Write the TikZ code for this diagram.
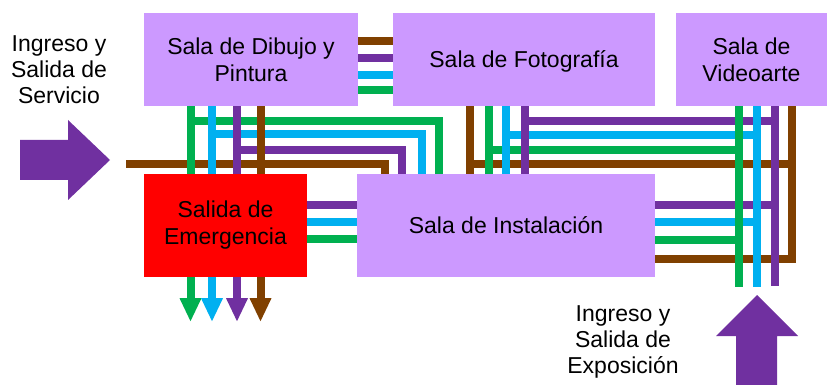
\documentclass[tikz,border=0pt]{standalone}
\usepackage{fontspec}
\setmainfont{Liberation Sans}
\usetikzlibrary{arrows.meta}
\definecolor{lav}{RGB}{204,153,255}
\definecolor{pu}{RGB}{112,48,160}
\definecolor{cy}{RGB}{0,176,240}
\definecolor{gr}{RGB}{0,176,80}
\definecolor{br}{RGB}{128,64,0}
\begin{document}
\begin{tikzpicture}[x=1pt,y=-1pt,
  room/.style={fill=lav,inner sep=0pt,align=center,font=\fontsize{23}{27}\selectfont},
  lbl/.style={inner sep=0pt,align=center,font=\fontsize{23}{26}\selectfont},
  ln/.style={line width=8pt},
  tipd/.style={-{Triangle[width=22pt,length=23pt,line width=0pt]}}]
\useasboundingbox (0,0) rectangle (828,385);

% rooms
\node[room,minimum width=214pt,minimum height=93pt] (dib) at (251,59.5) {Sala de Dibujo y\\Pintura};
\node[room,text depth=0pt,minimum width=262pt,minimum height=93pt] (fot) at (524,59.5) {Sala de Fotografía};
\node[room,minimum width=151pt,minimum height=93pt] (vid) at (751.5,59.5) {Sala de\\Videoarte};
\node[room,fill=red,minimum width=163pt,minimum height=103pt] (em) at (225.5,225.5) {Salida de\\Emergencia};
\node[room,text depth=0pt,minimum width=298pt,minimum height=103pt] (inst) at (506,225.5) {Sala de Instalación};

% labels
\node[lbl] (srvtxt) at (59,70) {Ingreso y\\Salida de\\Servicio};
\node[lbl] (exptxt) at (623,342) {Ingreso y\\Salida de\\Exposición};

% big arrows
\fill[pu] (20,140) -- (68,140) -- (68,120) -- (110,160) -- (68,200) -- (68,180) -- (20,180) -- cycle;
\fill[pu] (736,385) -- (736,336) -- (716,336) -- (757,295) -- (798,336) -- (777,336) -- (777,385) -- cycle;

% named points
\coordinate (srv) at (126,164);
\coordinate (jgL) at (190.5,121);
\coordinate (jcL) at (212,134.5);
\coordinate (jpL) at (237,150.5);
\coordinate (jbF) at (470,164);
\coordinate (jgF) at (489,150);
\coordinate (jcF) at (506,135);
\coordinate (jpF) at (525,121);
\coordinate (egV) at (739,287);
\coordinate (ecV) at (757,287);
\coordinate (epV) at (775,286);

% Dibujo -> Fotografia
\draw[ln,br] (dib.east |- 0,41) -- (fot.west |- 0,41);
\draw[ln,pu] (dib.east |- 0,58) -- (fot.west |- 0,58);
\draw[ln,cy] (dib.east |- 0,75) -- (fot.west |- 0,75);
\draw[ln,gr] (dib.east |- 0,90) -- (fot.west |- 0,90);

% Emergencia -> Instalacion
\draw[ln,pu] (em.east |- 0,205) -- (inst.west |- 0,205);
\draw[ln,cy] (em.east |- 0,222) -- (inst.west |- 0,222);
\draw[ln,gr] (em.east |- 0,239) -- (inst.west |- 0,239);

% left group horizontals
\draw[ln,br] (srv) -| (inst.north -| 385,0);
\draw[ln,gr] (jgL) -| (inst.north -| 439,0);
\draw[ln,cy] (jcL) -| (inst.north -| 422,0);
\draw[ln,pu] (jpL) -| (inst.north -| 402,0);

% right group horizontals
\draw[ln,pu] (jpF) -- (jpF -| epV);
\draw[ln,cy] (jcF) -- (jcF -| ecV);
\draw[ln,gr] (jgF) -- (jgF -| egV);
\draw[ln,br] (jbF) -- (792,164);
\draw[ln,br] (vid.south -| 792,0) |- (inst.east |- 0,259);
\draw[ln,pu] (inst.east |- 0,205) -- (epV |- 0,205);
\draw[ln,cy] (inst.east |- 0,222) -- (ecV |- 0,222);
\draw[ln,gr] (inst.east |- 0,240) -- (egV |- 0,240);

% left verticals
\draw[ln,gr] (dib.south -| jgL) -- (em.north -| jgL);
\draw[ln,cy] (dib.south -| jcL) -- (em.north -| jcL);
\draw[ln,pu] (dib.south -| jpL) -- (em.north -| jpL);
\draw[ln,br] (dib.south -| 260.5,0) -- (em.north -| 260.5,0);

% Fotografia verticals
\draw[ln,br] (fot.south -| jbF) -- (inst.north -| jbF);
\draw[ln,gr] (fot.south -| jgF) -- (inst.north -| jgF);
\draw[ln,cy] (fot.south -| jcF) -- (inst.north -| jcF);
\draw[ln,pu] (fot.south -| jpF) -- (inst.north -| jpF);

% Videoarte verticals
\draw[ln,gr] (vid.south -| egV) -- (egV);
\draw[ln,cy] (vid.south -| ecV) -- (ecV);
\draw[ln,pu] (vid.south -| epV) -- (epV);

% exit arrows
\draw[ln,gr,tipd] (em.south -| jgL) -- +(0,44);
\draw[ln,cy,tipd] (em.south -| jcL) -- +(0,44);
\draw[ln,pu,tipd] (em.south -| jpL) -- +(0,44);
\draw[ln,br,tipd] (em.south -| 260.5,0) -- +(0,44);
\end{tikzpicture}
\end{document}
